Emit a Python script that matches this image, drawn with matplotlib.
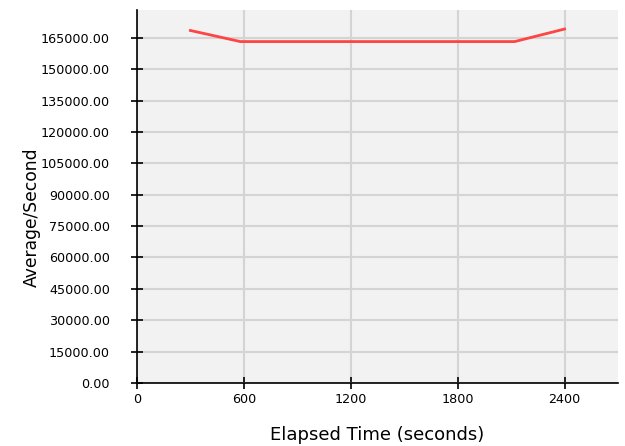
import matplotlib.pyplot as plt
from matplotlib.ticker import FixedLocator, FuncFormatter

# data
elapsed = [300, 580, 2120, 2400]
avg_per_sec = [168500, 163200, 163200, 169200]

x_ticks = [0, 600, 1200, 1800, 2400]
y_ticks = list(range(0, 165001, 15000))

fig = plt.figure(figsize=(6.25, 4.46), dpi=100)
ax = fig.add_axes([0.2192, 0.1413, 0.7696, 0.8363])
ax.set_facecolor('#f2f2f2')

ax.plot(elapsed, avg_per_sec, color='#ff4444', linewidth=2, zorder=3)

ax.set_xlim(0, 2700)
ax.set_ylim(0, 178300)
ax.xaxis.set_major_locator(FixedLocator(x_ticks))
ax.yaxis.set_major_locator(FixedLocator(y_ticks))
ax.yaxis.set_major_formatter(FuncFormatter(lambda v, p: '%.2f' % v))

ax.grid(True, color='#d4d4d4', linewidth=1.5, zorder=0)
ax.set_axisbelow(True)

for s in ['top', 'right']:
    ax.spines[s].set_visible(False)
for s in ['left', 'bottom']:
    ax.spines[s].set_color('black')
    ax.spines[s].set_linewidth(1.2)

ax.tick_params(axis='y', direction='inout', length=9, width=1.2, pad=15, labelsize=9.2)
ax.tick_params(axis='x', direction='inout', length=9, width=1.2, pad=3, labelsize=9.2)

ax.set_xlabel('Elapsed Time (seconds)', fontsize=13)
ax.set_ylabel('Average/Second', fontsize=12.3)
ax.xaxis.set_label_coords(0.5, -0.115)
ax.yaxis.set_label_coords(-0.2, 0.445)

fig.savefig('out.png', dpi=100)
